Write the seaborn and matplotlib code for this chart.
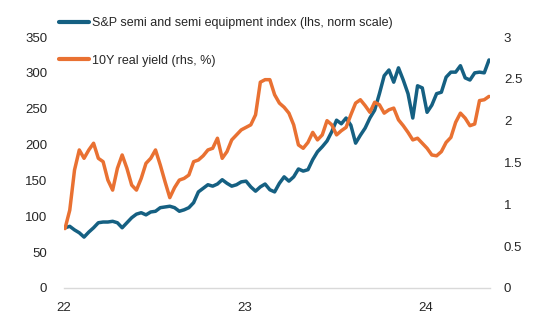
import numpy as np
import pandas as pd
import matplotlib
matplotlib.use("Agg")
import matplotlib.pyplot as plt
import matplotlib.dates as mdates
from matplotlib.lines import Line2D
import seaborn as sns

# ---- data ----
start_date = "2022-01-03"
end_date = "2024-05-08"
n_points = 90

semis = [84, 86, 81, 77, 71, 78, 84, 91, 92, 92,
         93, 91, 84, 91, 98, 103, 105, 102, 106, 107,
         112, 113, 114, 112, 107, 109, 112, 119, 134, 139,
         144, 142, 145, 151, 146, 142, 144, 148, 149, 141,
         135, 141, 145, 137, 134, 146, 155, 149, 155, 166,
         163, 165, 179, 190, 197, 205, 218, 234, 229, 237,
         227, 202, 213, 223, 237, 248, 271, 296, 304, 287,
         307, 290, 271, 237, 282, 279, 245, 255, 271, 273,
         294, 301, 301, 310, 293, 290, 300, 301, 300, 318]

real_yield = [0.71, 0.93, 1.41, 1.65, 1.55, 1.65, 1.73, 1.55, 1.51, 1.29,
              1.17, 1.43, 1.59, 1.43, 1.23, 1.17, 1.31, 1.49, 1.55, 1.65,
              1.47, 1.27, 1.08, 1.20, 1.29, 1.31, 1.35, 1.51, 1.53, 1.58,
              1.65, 1.67, 1.79, 1.55, 1.63, 1.77, 1.83, 1.89, 1.92, 1.95,
              2.07, 2.46, 2.49, 2.49, 2.31, 2.21, 2.16, 2.09, 1.95, 1.71,
              1.67, 1.74, 1.86, 1.77, 1.83, 2.00, 1.95, 1.83, 1.88, 1.92,
              2.07, 2.21, 2.25, 2.18, 2.10, 2.22, 2.19, 2.09, 2.13, 2.15,
              2.01, 1.94, 1.86, 1.77, 1.79, 1.73, 1.67, 1.59, 1.58, 1.63,
              1.74, 1.80, 1.98, 2.09, 2.03, 1.94, 1.96, 2.24, 2.25, 2.29]

label_semis = "S&P semi and semi equipment index (lhs, norm scale)"
label_yield = "10Y real yield (rhs, %)"
left_ticks = [0, 50, 100, 150, 200, 250, 300, 350]
right_ticks = [0, 0.5, 1, 1.5, 2, 2.5, 3]
right_tick_labels = ["0", "0.5", "1", "1.5", "2", "2.5", "3"]

# ---- style ----
BLUE = "#156082"
ORANGE = "#E97132"
FONT = ["Liberation Sans", "DejaVu Sans"]

sns.set_theme(style="white")
plt.rcParams["font.family"] = FONT

dates = pd.date_range(start_date, end_date, periods=n_points)
df = pd.DataFrame({"date": dates, "semis": semis, "yield": real_yield})

fig = plt.figure(figsize=(5.42, 3.29), dpi=100)
ax = fig.add_axes([64 / 542, 41 / 329, 426 / 542, 251 / 329])
ax2 = ax.twinx()

sns.lineplot(data=df, x="date", y="semis", ax=ax, color=BLUE, lw=2.5, legend=False)
sns.lineplot(data=df, x="date", y="yield", ax=ax2, color=ORANGE, lw=2.5, legend=False)

ax.set_ylim(0, 350)
ax2.set_ylim(0, 3)
ax.set_xlim(pd.Timestamp("2022-01-01"), pd.Timestamp("2024-05-10"))

ax.set_yticks(left_ticks)
ax2.set_yticks(right_ticks)
ax2.set_yticklabels(right_tick_labels)

ax.xaxis.set_major_locator(mdates.YearLocator())
ax.xaxis.set_major_formatter(mdates.DateFormatter("%y"))

for a in (ax, ax2):
    a.set_xlabel("")
    a.set_ylabel("")
    for s in a.spines.values():
        s.set_visible(False)
    a.grid(False)
ax.spines["bottom"].set_visible(True)
ax.spines["bottom"].set_color("#D9D9D9")
ax.spines["bottom"].set_linewidth(1.0)

ax.tick_params(axis="y", length=0, pad=12, labelsize=9.5, labelcolor="#262626")
ax2.tick_params(axis="y", length=0, pad=10, labelsize=9.5, labelcolor="#262626")
ax.tick_params(axis="x", length=0, pad=10, labelsize=9.5, labelcolor="#262626")

handles = [Line2D([0], [0], color=BLUE, lw=3),
           Line2D([0], [0], color=ORANGE, lw=3)]
fig.legend(handles, [label_semis, label_yield],
           loc="upper left", bbox_to_anchor=(54 / 542, 1 - 12 / 329),
           frameon=False, fontsize=9, labelspacing=2.05,
           handlelength=2.4, handletextpad=0.2, borderaxespad=0,
           labelcolor="#262626")

fig.savefig("out.png", dpi=100)
